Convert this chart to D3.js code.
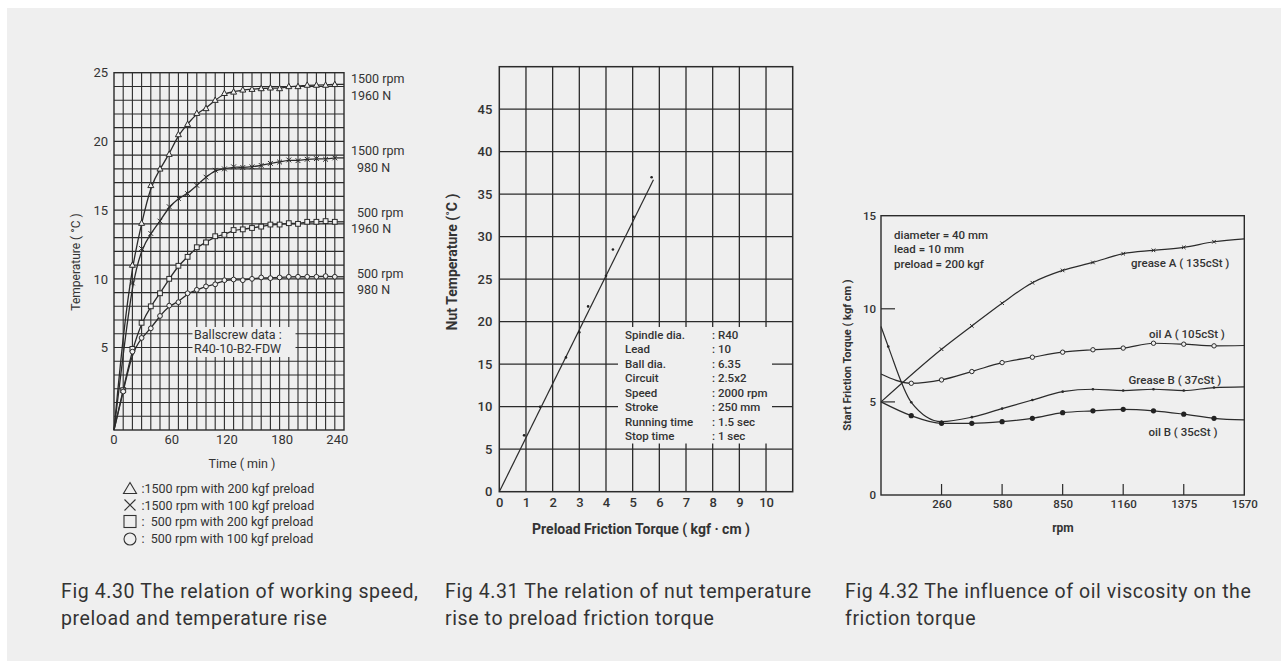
<!DOCTYPE html>
<html><head><meta charset="utf-8">
<script src="https://cdn.jsdelivr.net/npm/d3@7"></script>
<style>
body{margin:0;background:#fff;}
svg text{font-family:Roboto,"DejaVu Sans",sans-serif;fill:#333;}
</style>
</head><body>
<svg id="c" width="1281" height="661"></svg>
<script>
// ---------- Fig 4.30 data ----------
const timeMin = [0,10,20,30,40,50,60,70,80,90,100,110,120,130,140,150,160,170,180,190,200,210,220,230,240];
const tri1500_1960 = [-1,6.0,11.0,14.05,16.8,18.0,19.07,20.5,21.25,22.05,22.4,23.0,23.5,23.6,23.75,23.8,23.85,23.9,23.85,24.0,24.0,24.1,24.1,24.1,24.15];
const x1500_980   = [-1,4.5,9.7,12.2,13.3,14.2,15.25,15.85,16.2,16.8,17.4,17.9,18.0,18.15,18.1,18.15,18.25,18.4,18.5,18.65,18.6,18.7,18.75,18.7,18.8];
const sq500_1960  = [-1,1.9,4.9,6.8,8.0,8.95,10.0,10.95,11.6,12.3,12.65,13.1,13.2,13.55,13.6,13.7,13.8,13.95,13.95,14.05,14.0,14.15,14.15,14.2,14.15];
const ci500_980   = [-1,1.8,4.7,5.7,6.4,7.3,8.05,8.3,8.95,9.2,9.45,9.6,9.9,9.95,9.9,10.0,10.1,10.05,10.1,10.15,10.15,10.15,10.15,10.2,10.15];
const markerFromMin = [20,20,10,10];
const f1TickY = [5,10,15,20,25];
const f1TickX = [0,60,120,180,240];
const f1RightLabels = [["1500 rpm","1960 N"],["1500 rpm","980 N"],["500 rpm","1960 N"],["500 rpm","980 N"]];
const f1Legend = [":1500 rpm with 200 kgf preload",":1500 rpm with 100 kgf preload",":\u00a0\u00a0500 rpm with 200 kgf preload",":\u00a0\u00a0500 rpm with 100 kgf preload"];

// ---------- Fig 4.31 data ----------
const torque = [0.93,1.53,2.5,3.0,3.33,4.0,4.26,5.03,5.71];
const nutTemp = [6.63,10.0,15.8,18.75,21.8,25.4,28.5,32.35,37.0];
const fitTorque = [0,5.78];
const fitTemp = [0,36.7];
const f2TickX = [0,1,2,3,4,5,6,7,8,9,10];
const f2TickY = [0,5,10,15,20,25,30,35,40,45];
const specLabels = ["Spindle dia.","Lead","Ball dia.","Circuit","Speed","Stroke","Running time","Stop time"];
const specValues = [": R40",": 10",": 6.35",": 2.5x2",": 2000 rpm",": 250 mm",": 1.5 sec",": 1 sec"];

// ---------- Fig 4.32 data ----------
const rpmTicks = ["260","580","850","1160","1375","1570"];
const greaseA_x = [0,1,1.5,2,2.5,3,3.5,4,4.5,5,5.5,6];
const greaseA_y = [5.0,7.83,9.08,10.3,11.4,12.06,12.49,12.96,13.14,13.3,13.6,13.76];
const oilA_x = [0,0.5,1,1.5,2,2.5,3,3.5,4,4.5,5,5.5,6];
const oilA_y = [6.5,6.0,6.18,6.63,7.11,7.4,7.67,7.8,7.89,8.15,8.1,8.01,8.03];
const greaseB_x = [0,0.12,0.5,1,1.5,2,2.5,3,3.5,4,4.5,5,5.5,6];
const greaseB_y = [9.05,7.97,4.98,3.94,4.18,4.64,5.1,5.55,5.68,5.61,5.68,5.61,5.77,5.81];
const oilB_x = [0,0.5,1,1.5,2,2.5,3,3.5,4,4.5,5,5.5,6];
const oilB_y = [5.0,4.26,3.85,3.85,3.94,4.12,4.42,4.52,4.6,4.52,4.34,4.12,4.03];
const f3TickY = [0,5,10,15];
const f3Notes = ["diameter = 40 mm","lead = 10 mm","preload = 200 kgf"];

const captions = [
  ["Fig 4.30 The relation of working speed,","preload and temperature rise"],
  ["Fig 4.31 The relation of nut temperature","rise to preload friction torque"],
  ["Fig 4.32 The influence of oil viscosity on the","friction torque"]
];

const BG = "#efefef", INK = "#2b2b2b";
const svg = d3.select("#c");
svg.append("rect").attr("x",7).attr("y",8).attr("width",1274).attr("height",653).attr("fill",BG);

// ================= Fig 4.30 =================
{
  const g = svg.append("g");
  const x = d3.scaleLinear().domain([0,250]).range([114,344]);
  const y = d3.scaleLinear().domain([-1,25]).range([430,72.7]);
  g.append("g").selectAll("line").data(d3.range(10,250,10)).join("line")
    .attr("x1",d=>x(d)).attr("x2",d=>x(d)).attr("y1",y(-1)).attr("y2",y(25))
    .attr("stroke",INK).attr("stroke-width",1.1);
  g.append("g").selectAll("line").data(d3.range(0,25,1)).join("line")
    .attr("y1",d=>y(d)).attr("y2",d=>y(d)).attr("x1",x(0)).attr("x2",x(250))
    .attr("stroke",INK).attr("stroke-width",1.1);
  g.append("rect").attr("x",x(0)).attr("y",y(25)).attr("width",x(250)-x(0)).attr("height",y(-1)-y(25))
    .attr("fill","none").attr("stroke",INK).attr("stroke-width",1.4);

  // ballscrew box
  g.append("rect").attr("x",192.5).attr("y",327).attr("width",103).attr("height",30).attr("fill",BG);
  g.append("text").attr("x",194).attr("y",338.5).attr("font-size",12.5).text("Ballscrew data :");
  g.append("text").attr("x",194).attr("y",353).attr("font-size",12.5).text("R40-10-B2-FDW");

  const series = [tri1500_1960,x1500_980,sq500_1960,ci500_980];
  const line = d3.line().x(d=>x(d[0])).y(d=>y(d[1])).curve(d3.curveBasis);
  series.forEach((vals,si)=>{
    const pts = timeMin.map((t,i)=>[t,vals[i]]);
    g.append("path").attr("d",line(pts)).attr("fill","none").attr("stroke",INK).attr("stroke-width",1.3);
    const last = pts[pts.length-1];
    g.append("line").attr("x1",x(last[0])).attr("x2",x(250)).attr("y1",y(last[1])).attr("y2",y(last[1]))
      .attr("stroke",INK).attr("stroke-width",1.3);
    const mk = pts.filter(p=>p[0]>=markerFromMin[si]);
    const mg = g.append("g").attr("fill",BG).attr("stroke",INK).attr("stroke-width",1);
    mk.forEach(p=>{
      const cx=x(p[0]), cy=y(p[1]);
      if(si===0) mg.append("path").attr("d",`M${cx},${cy-3.2}L${cx+3},${cy+2.2}L${cx-3},${cy+2.2}Z`);
      else if(si===1) mg.append("path").attr("d",`M${cx-2.4},${cy-2.4}L${cx+2.4},${cy+2.4}M${cx+2.4},${cy-2.4}L${cx-2.4},${cy+2.4}`);
      else if(si===2) mg.append("rect").attr("x",cx-2.4).attr("y",cy-2.4).attr("width",4.8).attr("height",4.8);
      else mg.append("circle").attr("cx",cx).attr("cy",cy).attr("r",2.4);
    });
  });

  // axes
  const ay = g.append("g").attr("transform",`translate(${x(0)-6},0)`)
    .call(d3.axisLeft(y).tickValues(f1TickY).tickSize(0).tickPadding(0));
  ay.select(".domain").remove();
  ay.selectAll("text").attr("font-size",13).attr("font-family","Roboto").attr("fill","#333");
  const ax = g.append("g").attr("transform",`translate(2,${y(-1)+5})`)
    .call(d3.axisBottom(x).tickValues(f1TickX).tickSize(0).tickPadding(0));
  ax.select(".domain").remove();
  ax.selectAll("text").attr("font-size",13).attr("font-family","Roboto").attr("fill","#333");
  ax.selectAll(".tick").filter(d=>d===0).attr("transform",`translate(${x(0)-2},0)`);

  g.append("text").attr("transform","translate(80,262) rotate(-90)").attr("text-anchor","middle")
    .attr("font-size",12).text("Temperature ( °C )");
  g.append("text").attr("x",242).attr("y",468).attr("text-anchor","middle").attr("font-size",12.5).text("Time ( min )");

  const rl = [[78,95],[150,167],[212.5,228.5],[273,289]];
  const rx = [[351,351],[351,357],[357,351],[357,357]];
  f1RightLabels.forEach((pair,i)=>{
    pair.forEach((s,j)=>g.append("text").attr("x",rx[i][j]).attr("y",rl[i][j]+4.5).attr("font-size",12.5).text(s));
  });

  const ly = [488.5,505,521.5,538];
  const lg = g.append("g").attr("fill","none").attr("stroke","#333").attr("stroke-width",1.1);
  lg.append("path").attr("d",`M130,${ly[0]-6}L136.5,${ly[0]+5}L123.5,${ly[0]+5}Z`);
  lg.append("path").attr("d",`M124.5,${ly[1]-5.5}L135.5,${ly[1]+5.5}M135.5,${ly[1]-5.5}L124.5,${ly[1]+5.5}`);
  lg.append("rect").attr("x",124).attr("y",ly[2]-6).attr("width",12).attr("height",12);
  lg.append("circle").attr("cx",130).attr("cy",ly[3]+1).attr("r",6);
  f1Legend.forEach((s,i)=>g.append("text").attr("x",141.5).attr("y",ly[i]+4.5).attr("font-size",12.5).text(s));
}

// ================= Fig 4.31 =================
{
  const g = svg.append("g");
  const x = d3.scaleLinear().domain([0,11]).range([499.3,792.7]);
  const y = d3.scaleLinear().domain([0,50]).range([491.7,66.7]);
  g.append("g").selectAll("line").data(d3.range(1,11)).join("line")
    .attr("x1",d=>x(d)).attr("x2",d=>x(d)).attr("y1",y(0)).attr("y2",y(50))
    .attr("stroke",INK).attr("stroke-width",1.3);
  g.append("g").selectAll("line").data(d3.range(5,50,5)).join("line")
    .attr("y1",d=>y(d)).attr("y2",d=>y(d)).attr("x1",x(0)).attr("x2",x(11))
    .attr("stroke",INK).attr("stroke-width",1.3);
  g.append("rect").attr("x",x(0)).attr("y",y(50)).attr("width",x(11)-x(0)).attr("height",y(0)-y(50))
    .attr("fill","none").attr("stroke",INK).attr("stroke-width",1.5);
  g.append("rect").attr("x",618).attr("y",327).attr("width",154).attr("height",116.5).attr("fill",BG);
  specLabels.forEach((s,i)=>{
    g.append("text").attr("x",625).attr("y",339+i*14.45).attr("font-size",11.5).attr("font-weight",500).text(s);
    g.append("text").attr("x",712).attr("y",339+i*14.45).attr("font-size",11.5).attr("font-weight",500).text(specValues[i]);
  });
  g.append("path").attr("d",d3.line().x((d,i)=>x(d)).y((d,i)=>y(fitTemp[i]))(fitTorque))
    .attr("stroke",INK).attr("stroke-width",1.2).attr("fill","none");
  g.append("g").selectAll("circle").data(torque).join("circle")
    .attr("cx",d=>x(d)).attr("cy",(d,i)=>y(nutTemp[i])).attr("r",1.3).attr("fill","#222");

  const ay = g.append("g").attr("transform",`translate(${x(0)-7},0)`)
    .call(d3.axisLeft(y).tickValues(f2TickY).tickSize(0).tickPadding(0));
  ay.select(".domain").remove();
  ay.selectAll("text").attr("font-size",13).attr("font-weight",500).attr("font-family","Roboto").attr("fill","#333");
  const ax = g.append("g").attr("transform",`translate(0,${y(0)+6})`)
    .call(d3.axisBottom(x).tickValues(f2TickX).tickSize(0).tickPadding(0));
  ax.select(".domain").remove();
  ax.selectAll("text").attr("font-size",13).attr("font-weight",500).attr("font-family","Roboto").attr("fill","#333");

  g.append("text").attr("transform","translate(457,262) rotate(-90)").attr("text-anchor","middle")
    .attr("font-size",14).attr("font-weight",700).text("Nut Temperature (˚C )");
  g.append("text").attr("x",641).attr("y",534).attr("text-anchor","middle")
    .attr("font-size",14).attr("font-weight",700).text("Preload Friction Torque ( kgf · cm )");
}

// ================= Fig 4.32 =================
{
  const g = svg.append("g");
  const x = d3.scaleLinear().domain([0,6]).range([881,1244.3]);
  const y = d3.scaleLinear().domain([0,15]).range([495,215.7]);
  g.append("rect").attr("x",x(0)).attr("y",y(15)).attr("width",x(6)-x(0)).attr("height",y(0)-y(15))
    .attr("fill","none").attr("stroke",INK).attr("stroke-width",1.4);
  g.append("g").selectAll("line").data(d3.range(1,6)).join("line")
    .attr("x1",d=>x(d)).attr("x2",d=>x(d)).attr("y1",y(0)).attr("y2",y(0)-11).attr("stroke",INK).attr("stroke-width",1.2);
  g.append("g").selectAll("line").data([5,10]).join("line")
    .attr("y1",d=>y(d)).attr("y2",d=>y(d)).attr("x1",x(0)).attr("x2",x(0)+14).attr("stroke",INK).attr("stroke-width",1.2);

  const line = d3.line().x(d=>x(d[0])).y(d=>y(d[1])).curve(d3.curveMonotoneX);
  const S = [[greaseA_x,greaseA_y],[oilA_x,oilA_y],[greaseB_x,greaseB_y],[oilB_x,oilB_y]];
  S.forEach(([xs,ys],si)=>{
    const pts = xs.map((v,i)=>[v,ys[i]]);
    g.append("path").attr("d",line(pts)).attr("fill","none").attr("stroke",INK).attr("stroke-width",1.2);
    const mk = pts.slice(1,-1);
    const mg = g.append("g");
    mk.forEach(p=>{
      const cx=x(p[0]), cy=y(p[1]);
      if(si===0) mg.append("path").attr("d",`M${cx-1.8},${cy-1.8}L${cx+1.8},${cy+1.8}M${cx+1.8},${cy-1.8}L${cx-1.8},${cy+1.8}`).attr("stroke",INK).attr("stroke-width",1);
      else if(si===1) mg.append("circle").attr("cx",cx).attr("cy",cy).attr("r",2.2).attr("fill",BG).attr("stroke",INK).attr("stroke-width",1);
      else if(si===2) mg.append("circle").attr("cx",cx).attr("cy",cy).attr("r",1.3).attr("fill",INK);
      else mg.append("circle").attr("cx",cx).attr("cy",cy).attr("r",2.6).attr("fill","#222");
    });
  });

  const ay = g.append("g").attr("transform",`translate(${x(0)-5},0)`)
    .call(d3.axisLeft(y).tickValues(f3TickY).tickSize(0).tickPadding(0));
  ay.select(".domain").remove();
  ay.selectAll("text").attr("font-size",11.5).attr("font-weight",500).attr("font-family","Roboto").attr("fill","#333");
  const ax = g.append("g").attr("transform",`translate(0,${y(0)+5})`)
    .call(d3.axisBottom(x).tickValues(d3.range(1,7)).tickFormat((d,i)=>rpmTicks[i]).tickSize(0).tickPadding(0));
  ax.select(".domain").remove();
  ax.selectAll("text").attr("font-size",11.5).attr("font-weight",500).attr("font-family","Roboto").attr("fill","#333");

  f3Notes.forEach((s,i)=>g.append("text").attr("x",894).attr("y",238.5+i*14.5).attr("font-size",11.5).attr("font-weight",500).text(s));
  const lbl = [["grease A ( 135cSt )",1131,266.5],["oil A ( 105cSt )",1149,337.5],["Grease B ( 37cSt )",1128.5,383.5],["oil B ( 35cSt )",1148.5,435.5]];
  lbl.forEach(l=>g.append("text").attr("x",l[1]).attr("y",l[2]).attr("font-size",11.5).attr("font-weight",500).text(l[0]));

  g.append("text").attr("transform","translate(851,355) rotate(-90)").attr("text-anchor","middle")
    .attr("font-size",11).attr("font-weight",700).text("Start Friction Torque ( kgf cm )");
  g.append("text").attr("x",1063).attr("y",532).attr("text-anchor","middle")
    .attr("font-size",12).attr("font-weight",700).text("rpm");
}

// captions
const cx0 = [61,445,845];
captions.forEach((c,i)=>c.forEach((s,j)=>svg.append("text").attr("x",cx0[i]).attr("y",598+j*27)
  .attr("font-size",19.5).attr("letter-spacing",0.6).text(s)));
</script>
</body></html>
